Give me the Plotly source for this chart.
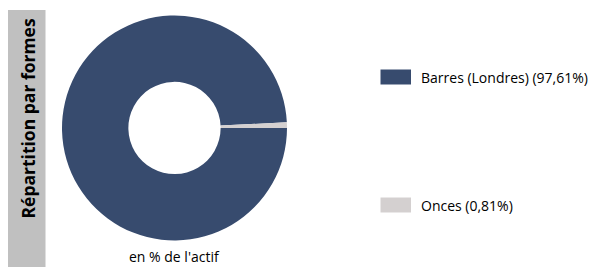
import plotly.graph_objects as go

labels = ["Barres (Londres)", "Onces"]
values = [97.61, 0.81]
colors = ["#374b6e", "#d4d0d0"]
title_text = "Répartition par formes"
caption = "en % de l'actif"

# the page body has an 8px margin; the figure is sized/offset to compensate
OFF = 8
W, H = 597 - OFF, 269 - OFF
FONT = "Open Sans, Segoe UI, sans-serif"

def px_x(x):
    return (x - OFF) / W

def px_y(y):
    return 1 - (y - OFF) / H

fig = go.Figure()
fig.add_trace(go.Pie(
    labels=labels, values=values, hole=0.41, sort=False,
    direction="clockwise", rotation=90,
    marker=dict(colors=colors, line=dict(width=0)),
    textinfo="none", hoverinfo="label+percent", showlegend=False,
    domain=dict(x=[px_x(62), px_x(287)], y=[px_y(240.5), px_y(15.5)]),
))

shapes = [dict(type="rect", xref="paper", yref="paper",
               x0=px_x(8), x1=px_x(45.5), y0=px_y(267), y1=px_y(10),
               fillcolor="#c0c0c0", line=dict(width=0), layer="below")]
annotations = [
    dict(text="<b>" + title_text + "</b>", x=px_x(27), y=px_y(118.5), xref="paper", yref="paper",
         textangle=-90, showarrow=False, font=dict(family=FONT, size=17.5, color="#000000"),
         xanchor="center", yanchor="middle"),
    dict(text=caption, x=px_x(174), y=px_y(268), xref="paper", yref="paper",
         showarrow=False, font=dict(family=FONT, size=14, color="#000000"),
         xanchor="center", yanchor="bottom", yshift=0),
]

legend_y = [77, 205]
for lab, val, col, ly in zip(labels, values, colors, legend_y):
    shapes.append(dict(type="rect", xref="paper", yref="paper",
                       x0=px_x(380.5), x1=px_x(411), y0=px_y(ly + 7.5), y1=px_y(ly - 7.5),
                       fillcolor=col, line=dict(width=0)))
    txt = f"{lab} ({val:.2f}%)".replace(".", ",")
    annotations.append(dict(text=txt, x=px_x(419), y=px_y(ly), xref="paper", yref="paper",
                            showarrow=False, font=dict(family=FONT, size=14, color="#000000"),
                            xanchor="left", yanchor="middle"))

fig.update_layout(
    width=W, height=H, margin=dict(l=0, r=0, t=0, b=0),
    paper_bgcolor="white", plot_bgcolor="white",
    shapes=shapes, annotations=annotations,
)

fig.write_html("out.html")
